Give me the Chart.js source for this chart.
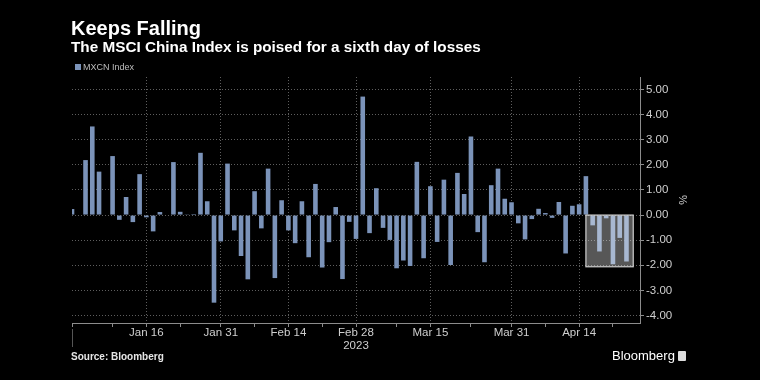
<!DOCTYPE html>
<html>
<head>
<meta charset="utf-8">
<script src="https://cdn.jsdelivr.net/npm/chart.js@4.4.1/dist/chart.umd.min.js"></script>
<style>
  html, body { margin: 0; padding: 0; background: #000; }
  #wrap { position: relative; width: 760px; height: 380px; overflow: hidden; background: #000; }
  #chart { position: absolute; left: 0; top: 0; }
  .txt { position: absolute; white-space: nowrap; line-height: 1; font-family: "Liberation Sans", Arial, sans-serif; }
  #title { left: 71px; top: 18px; font-size: 20px; font-weight: bold; color: #fff; }
  #subtitle { left: 71px; top: 39px; font-size: 15.3px; font-weight: bold; color: #fff; }
  #legend { left: 75px; top: 63px; font-size: 9px; color: #bdbdbd; }
  #legend i { display: inline-block; width: 6px; height: 6px; background: #7b93b9; margin-right: 2px; vertical-align: 0; }
  #source { left: 71px; top: 352px; font-size: 10px; font-weight: bold; color: #e6e6e6; }
  #brand { left: 612px; top: 349px; font-size: 13px; color: #fff; }
  #brand b { display: inline-block; width: 8px; height: 10px; background: #ddd; border-radius: 1px; margin-left: 3px; vertical-align: -1px; }
</style>
</head>
<body>
<div id="wrap">
  <canvas id="chart" width="760" height="380"></canvas>
  <div class="txt" id="title">Keeps Falling</div>
  <div class="txt" id="subtitle">The MSCI China Index is poised for a sixth day of losses</div>
  <div class="txt" id="legend"><i></i>MXCN Index</div>
  <div class="txt" id="source">Source: Bloomberg</div>
  <div class="txt" id="brand">Bloomberg<b></b></div>
</div>
<script>
// trading days shown on the axis (two trailing days are empty room on the right)
const dates = [
  'Dec 30',
  'Jan 2', 'Jan 3', 'Jan 4', 'Jan 5', 'Jan 6',
  'Jan 9', 'Jan 10', 'Jan 11', 'Jan 12', 'Jan 13',
  'Jan 16', 'Jan 17', 'Jan 18', 'Jan 19', 'Jan 20',
  'Jan 23', 'Jan 24', 'Jan 25', 'Jan 26', 'Jan 27',
  'Jan 30', 'Jan 31', 'Feb 1', 'Feb 2', 'Feb 3',
  'Feb 6', 'Feb 7', 'Feb 8', 'Feb 9', 'Feb 10',
  'Feb 13', 'Feb 14', 'Feb 15', 'Feb 16', 'Feb 17',
  'Feb 20', 'Feb 21', 'Feb 22', 'Feb 23', 'Feb 24',
  'Feb 27', 'Feb 28', 'Mar 1', 'Mar 2', 'Mar 3',
  'Mar 6', 'Mar 7', 'Mar 8', 'Mar 9', 'Mar 10',
  'Mar 13', 'Mar 14', 'Mar 15', 'Mar 16', 'Mar 17',
  'Mar 20', 'Mar 21', 'Mar 22', 'Mar 23', 'Mar 24',
  'Mar 27', 'Mar 28', 'Mar 29', 'Mar 30', 'Mar 31',
  'Apr 3', 'Apr 4', 'Apr 5', 'Apr 6', 'Apr 7',
  'Apr 10', 'Apr 11', 'Apr 12', 'Apr 13', 'Apr 14',
  'Apr 17', 'Apr 18', 'Apr 19', 'Apr 20', 'Apr 21',
  'Apr 24', 'Apr 25', 'Apr 26', 'Apr 27'
];

// daily % change of MXCN Index
const mxcnChange = [
  0.24, 0.02, 2.19, 3.53, 1.73, 0.02, 2.35, -0.19, 0.72, -0.28, 1.63, -0.09, -0.65, 0.12,
  0.02, 2.11, 0.13, 0.01, 0.04, 2.48, 0.55, -3.49, -1.05, 2.05, -0.61, -1.63, -2.56, 0.95,
  -0.53, 1.85, -2.51, 0.59, -0.61, -1.12, 0.55, -1.68, 1.24, -2.09, -1.08, 0.32, -2.55, -0.27,
  -0.95, 4.72, -0.72, 1.07, -0.51, -0.99, -2.12, -1.81, -2.03, 2.12, -1.72, 1.15, -1.07, 1.41,
  -1.99, 1.68, 0.84, 3.13, -0.68, -1.88, 1.19, 1.85, 0.65, 0.51, -0.33, -0.97, -0.16, 0.25,
  0.08, -0.11, 0.52, -1.53, 0.37, 0.43, 1.55, -0.41, -1.45, -0.13, -1.96, -0.91, -1.85
];

const majorTicks = ['Jan 16', 'Jan 31', 'Feb 14', 'Feb 28', 'Mar 15', 'Mar 31', 'Apr 14'];
const minorTicks = ['Dec 30', 'Jan 9', 'Jan 23', 'Feb 7', 'Feb 21', 'Mar 8', 'Mar 23', 'Apr 7', 'Apr 21'];
const yearLabels = ['2023'];          // second line under the middle tick
const yearTick = 'Feb 28';
const streak = ['Apr 18', 'Apr 25'];  // the six losing days in the box

const gridCol = 'rgba(125,125,125,0.75)';
const axisCol = '#8c8c8c';
const tickFont = { family: '"Liberation Sans", Arial, sans-serif', size: 11.5, lineHeight: 1.1 };

const highlightBox = {
  id: 'highlightBox',
  afterDatasetsDraw(chart) {
    const { ctx, scales: { x, y } } = chart;
    const i0 = dates.indexOf(streak[0]), i1 = dates.indexOf(streak[1]);
    const step = x.getPixelForValue(1) - x.getPixelForValue(0);
    const low = Math.min(...mxcnChange.slice(i0, i1 + 1)) - 0.1;
    const left = x.getPixelForValue(i0) - step;
    const right = x.getPixelForValue(i1) + step;
    const top = y.getPixelForValue(0);
    const bottom = y.getPixelForValue(low);
    ctx.save();
    ctx.fillStyle = 'rgba(255,255,255,0.34)';
    ctx.fillRect(left, top, right - left, bottom - top);
    ctx.strokeStyle = 'rgba(215,215,215,0.95)';
    ctx.lineWidth = 1.2;
    ctx.strokeRect(left, top, right - left, bottom - top);
    // year separator below the axis
    ctx.strokeStyle = '#555';
    ctx.lineWidth = 1;
    ctx.beginPath();
    ctx.moveTo(x.left + 0.5, x.top + 6);
    ctx.lineTo(x.left + 0.5, x.top + 24);
    ctx.stroke();
    ctx.restore();
  }
};

new Chart(document.getElementById('chart').getContext('2d'), {
  type: 'bar',
  data: {
    labels: dates,
    datasets: [{
      label: 'MXCN Index',
      data: mxcnChange,
      backgroundColor: '#7b93b9',
      borderWidth: 0,
      barPercentage: 0.68,
      categoryPercentage: 1
    }]
  },
  options: {
    responsive: false,
    animation: false,
    layout: { padding: { left: 72, top: 77, right: 71, bottom: 0 } },
    plugins: { legend: { display: false }, tooltip: { enabled: false } },
    scales: {
      x: {
        offset: false,
        afterFit(scale) { scale.height = 57; },
        grid: {
          offset: false,
          color: (c) => majorTicks.includes(dates[c.index]) ? gridCol : 'rgba(0,0,0,0)',
          tickColor: (c) => (majorTicks.includes(dates[c.index]) || minorTicks.includes(dates[c.index])) ? axisCol : 'rgba(0,0,0,0)',
          tickLength: 4,
          tickBorderDash: []
        },
        border: { color: axisCol, width: 1, dash: [1, 2] },
        ticks: {
          autoSkip: false,
          maxRotation: 0,
          padding: 0,
          color: '#cfcfcf',
          font: tickFont,
          callback(value, index) {
            const d = dates[index];
            if (!majorTicks.includes(d)) return '';
            return d === yearTick ? [d, ...yearLabels] : d;
          }
        }
      },
      y: {
        position: 'right',
        min: -4.3,
        max: 5.5,
        afterFit(scale) { scale.width = 49; },
        grid: {
          color: (c) => (c.tick && Number.isInteger(c.tick.value)) ? gridCol : 'rgba(0,0,0,0)',
          tickColor: axisCol,
          tickLength: 4,
          tickBorderDash: []
        },
        border: { color: axisCol, width: 1, dash: [1, 2] },
        title: {
          display: true,
          text: '%',
          color: '#cfcfcf',
          font: { family: '"Liberation Sans", Arial, sans-serif', size: 11 },
          padding: 0
        },
        ticks: {
          stepSize: 0.5,
          includeBounds: false,
          padding: 2,
          color: '#cfcfcf',
          font: tickFont,
          callback: (v) => Number.isInteger(v) ? v.toFixed(2) : ''
        }
      }
    }
  },
  plugins: [highlightBox]
});
</script>
</body>
</html>
